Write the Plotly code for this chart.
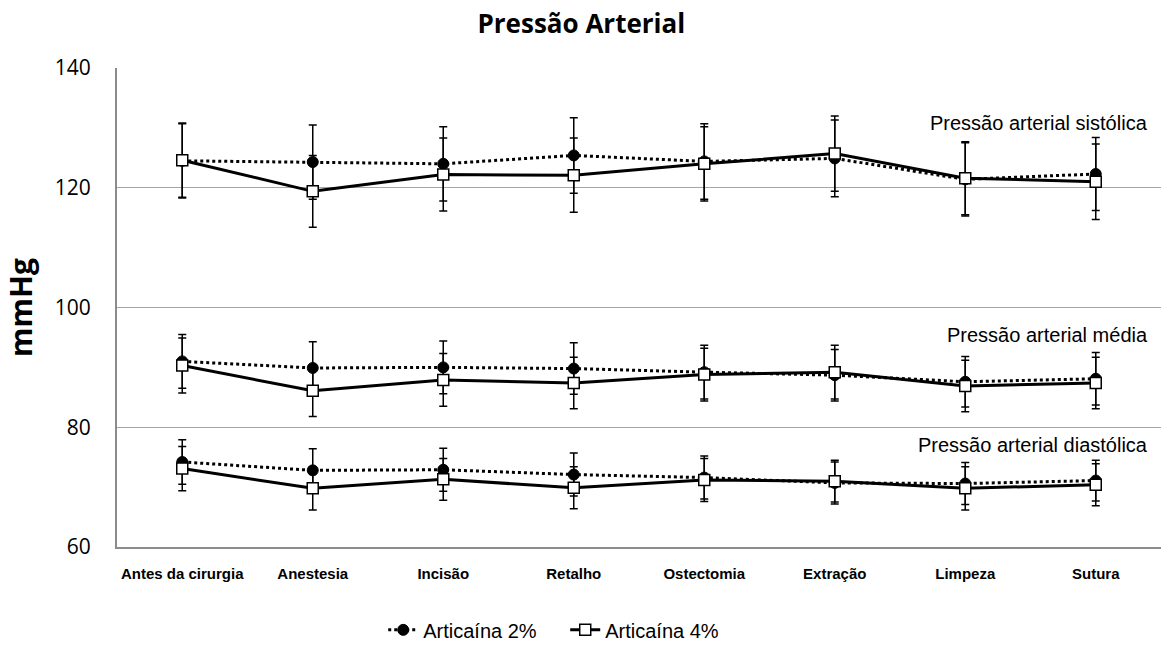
import plotly.graph_objects as go

# Surgical stages
categories = ["Antes da cirurgia", "Anestesia", "Incisão", "Retalho",
              "Ostectomia", "Extração", "Limpeza", "Sutura"]

# Systolic pressure (mean, SD)
sis_2 = [124.5, 124.3, 124.0, 125.4, 124.4, 124.9, 121.4, 122.3]
sis_2_sd = [6.2, 6.2, 6.2, 6.3, 6.3, 6.4, 6.1, 6.1]
sis_4 = [124.6, 119.4, 122.2, 122.1, 124.0, 125.7, 121.6, 121.0]
sis_4_sd = [6.2, 6.0, 6.1, 6.2, 6.2, 6.3, 6.1, 6.3]

# Mean arterial pressure (mean, SD)
med_2 = [91.0, 89.9, 90.0, 89.8, 89.2, 88.7, 87.6, 88.1]
med_2_sd = [4.5, 4.4, 4.4, 4.3, 4.5, 4.3, 4.2, 4.4]
med_4 = [90.3, 86.1, 87.9, 87.4, 88.8, 89.2, 86.9, 87.4]
med_4_sd = [4.6, 4.3, 4.4, 4.3, 4.4, 4.5, 4.3, 4.3]

# Diastolic pressure (mean, SD)
dia_2 = [74.2, 72.8, 72.9, 72.1, 71.6, 70.7, 70.6, 71.1]
dia_2_sd = [3.7, 3.6, 3.6, 3.6, 3.6, 3.5, 3.5, 3.4]
dia_4 = [73.1, 69.8, 71.3, 69.9, 71.2, 71.0, 69.8, 70.4]
dia_4_sd = [3.7, 3.6, 3.5, 3.5, 3.6, 3.5, 3.6, 3.5]

y_ticks = [60, 80, 100, 120, 140]

group_labels = [("Pressão arterial sistólica", 130.8),
                ("Pressão arterial média", 95.4),
                ("Pressão arterial diastólica", 77.1)]

ARIAL = "Liberation Sans, Arial, sans-serif"
SANS = "Open Sans, sans-serif"

fig = go.Figure()

series_2 = [(sis_2, sis_2_sd), (med_2, med_2_sd), (dia_2, dia_2_sd)]
series_4 = [(sis_4, sis_4_sd), (med_4, med_4_sd), (dia_4, dia_4_sd)]

err_style = dict(type="data", visible=True, color="black", thickness=1.5, width=4)

for i, (vals, sd) in enumerate(series_2):
    fig.add_trace(go.Scatter(
        x=categories, y=vals, mode="lines+markers",
        name="Articaína 2%", legendgroup="a2", showlegend=(i == 0),
        line=dict(color="black", width=3, dash="dot"),
        marker=dict(symbol="circle", size=11, color="black",
                    line=dict(color="black", width=1)),
        error_y=dict(array=sd, **err_style),
    ))

for i, (vals, sd) in enumerate(series_4):
    fig.add_trace(go.Scatter(
        x=categories, y=vals, mode="lines+markers",
        name="Articaína 4%", legendgroup="a4", showlegend=(i == 0),
        line=dict(color="black", width=3),
        marker=dict(symbol="square", size=11, color="white",
                    line=dict(color="black", width=1.5)),
        error_y=dict(array=sd, **err_style),
    ))

for text, yv in group_labels:
    fig.add_annotation(
        x=0.9895, xref="paper", xanchor="right",
        y=yv, yref="y", yanchor="middle",
        text=text, showarrow=False,
        font=dict(family=ARIAL, size=20, color="black"),
    )

fig.update_layout(
    width=1165, height=646,
    margin=dict(l=117, r=4, t=68, b=99, autoexpand=False),
    paper_bgcolor="white", plot_bgcolor="white",
    title=dict(text="<b>Pressão Arterial</b>", x=0.499, xanchor="center",
               y=0.963, yanchor="middle",
               font=dict(family=SANS, size=26, color="black")),
    font=dict(family=ARIAL, color="black"),
    showlegend=True,
    legend=dict(orientation="h", x=0.255, xanchor="left",
                yref="container", y=0.025, yanchor="middle",
                entrywidth=137,
                font=dict(family=ARIAL, size=20, color="black"),
                bgcolor="rgba(0,0,0,0)"),
    xaxis=dict(
        type="category", range=[-0.5, 7.5], automargin=False,
        showline=True, linecolor="#8c8c8c", linewidth=2,
        showgrid=False, ticks="", mirror=False,
        ticklabelstandoff=12,
        tickfont=dict(family=ARIAL, size=15, color="black"),
        tickprefix="<b>", ticksuffix="</b>",
    ),
    yaxis=dict(
        range=[60, 140], tickvals=y_ticks, automargin=False,
        showline=True, linecolor="#8c8c8c", linewidth=2,
        showgrid=True, gridcolor="#a6a6a6", gridwidth=1,
        zeroline=False, ticks="", ticklabelstandoff=20,
        tickfont=dict(family=SANS, size=21, color="black"),
        title=dict(text="<b>mmHg</b>", standoff=16,
                   font=dict(family=SANS, size=30, color="black")),
    ),
)

fig.write_html("out.html")
